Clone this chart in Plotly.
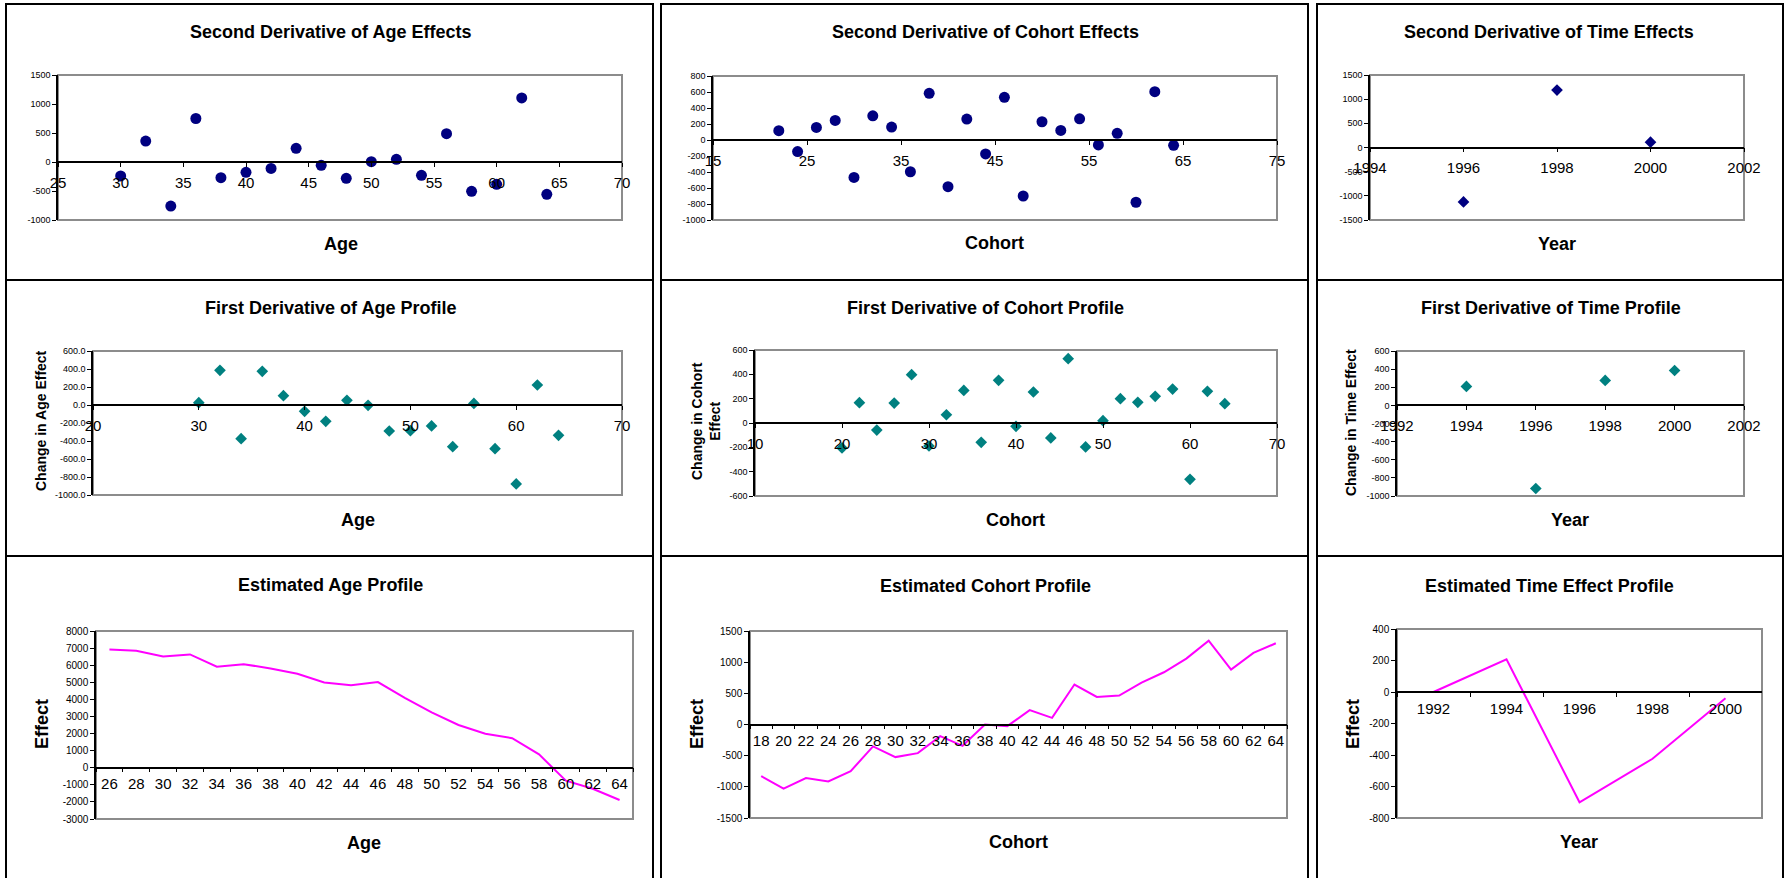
import plotly.graph_objects as go

W, H = 1788, 878
FONT = "Liberation Sans, Arial, sans-serif"

# ---------------- data ----------------
age2_x = [30, 32, 34, 36, 38, 40, 42, 44, 46, 48, 50, 52, 54, 56, 58, 60, 62, 64]
age2_y = [-240, 360, -760, 750, -270, -178, -110, 236, -58, -282, 5, 46, -230, 489, -506, -385, 1104, -558]

coh2_x = [22, 24, 26, 28, 30, 32, 34, 36, 38, 40, 42, 44, 46, 48, 50, 52, 54, 56, 58, 60, 62, 64]
coh2_y = [116, -145, 157, 244, -468, 302, 161, -397, 584, -584, 261, -174, 534, -700, 228, 120, 265, -62, 83, -778, 604, -66]

time2_x = [1996, 1998, 2000]
time2_y = [-1127, 1189, 111]

age1_x = [30, 32, 34, 36, 38, 40, 42, 44, 46, 48, 50, 52, 54, 56, 58, 60, 62, 64]
age1_y = [26, 385, -374, 374, 104, -70, -181, 52, -4, -289, -285, -233, -463, 18, -485, -877, 222, -337]

coh1_x = [20, 22, 24, 26, 28, 30, 32, 34, 36, 38, 40, 42, 44, 46, 48, 50, 52, 54, 56, 58, 60, 62, 64]
coh1_y = [-205, 167, -58, 164, 397, -189, 68, 268, -159, 351, -27, 255, -123, 529, -197, 19, 200, 170, 219, 279, -463, 260, 159]

time1_x = [1994, 1996, 1998, 2000]
time1_y = [209, -917, 275, 385]

age_cat = [26, 28, 30, 32, 34, 36, 38, 40, 42, 44, 46, 48, 50, 52, 54, 56, 58, 60, 62, 64]
age_eff = [6920, 6840, 6510, 6630, 5910, 6060, 5810, 5500, 4990, 4830, 5010, 4090, 3240, 2500, 1990, 1730, 780, -760, -1230, -1890]

coh_cat = [18, 20, 22, 24, 26, 28, 30, 32, 34, 36, 38, 40, 42, 44, 46, 48, 50, 52, 54, 56, 58, 60, 62, 64]
coh_eff = [-828, -1030, -860, -913, -748, -352, -523, -459, -187, -342, 0, -27, 230, 107, 641, 443, 465, 673, 838, 1057, 1346, 881, 1148, 1303]

year_cat = [1992, 1994, 1996, 1998, 2000]
time_eff = [0, 208, -700, -424, -40]

titles = ["Second Derivative of Age Effects", "Second Derivative of Cohort Effects", "Second Derivative of Time Effects",
          "First Derivative of Age Profile", "First Derivative of Cohort Profile", "First Derivative of Time Profile",
          "Estimated Age Profile", "Estimated Cohort Profile", "Estimated Time Effect Profile"]
xtitles = ["Age", "Cohort", "Year", "Age", "Cohort", "Year", "Age", "Cohort", "Year"]
ytitles = [None, None, None, "Change in Age Effect", "Change in Cohort<br>Effect", "Change in Time Effect",
           "Effect", "Effect", "Effect"]

NAVY = "#000080"
TEAL = "#008080"
MAGENTA = "#FF00FF"

# ---------------- panel specs (pixel geometry) ----------------
panels = [
    dict(kind="num", x=age2_x, y=age2_y, mk=("circle", 11, NAVY), plot=(58, 622, 75, 220),
         xr=(25, 70), xd=5, yr=(-1000, 1500), yd=500, yf="{:.0f}", title=(330, 32), xt=(341, 244), yt=None),
    dict(kind="num", x=coh2_x, y=coh2_y, mk=("circle", 11, NAVY), plot=(713, 1277, 76, 220),
         xr=(15, 75), xd=10, yr=(-1000, 800), yd=200, yf="{:.0f}", title=(985, 32), xt=(995, 243), yt=None),
    dict(kind="num", x=time2_x, y=time2_y, mk=("diamond", 9, NAVY), plot=(1370, 1744, 75, 220),
         xr=(1994, 2002), xd=2, yr=(-1500, 1500), yd=500, yf="{:.0f}", title=(1549, 32), xt=(1557, 244), yt=None),
    dict(kind="num", x=age1_x, y=age1_y, mk=("diamond", 9, TEAL), plot=(93, 622, 351, 495),
         xr=(20, 70), xd=10, yr=(-1000, 600), yd=200, yf="{:.1f}", title=(330, 308), xt=(358, 520), yt=(41, 421)),
    dict(kind="num", x=coh1_x, y=coh1_y, mk=("diamond", 9, TEAL), plot=(755, 1277, 350, 496),
         xr=(10, 70), xd=10, yr=(-600, 600), yd=200, yf="{:.0f}", title=(985, 308), xt=(1015, 520), yt=(706, 421)),
    dict(kind="num", x=time1_x, y=time1_y, mk=("diamond", 9, TEAL), plot=(1397, 1744, 351, 496),
         xr=(1992, 2002), xd=2, yr=(-1000, 600), yd=200, yf="{:.0f}", title=(1551, 308), xt=(1570, 520), yt=(1351, 423)),
    dict(kind="cat", x=age_cat, y=age_eff, plot=(96, 633, 631, 819),
         yr=(-3000, 8000), yd=1000, yf="{:.0f}", title=(330, 585), xt=(364, 843), yt=(42, 724)),
    dict(kind="cat", x=coh_cat, y=coh_eff, plot=(750, 1287, 631, 818),
         yr=(-1500, 1500), yd=500, yf="{:.0f}", title=(985, 586), xt=(1018, 842), yt=(697, 724)),
    dict(kind="cat", x=year_cat, y=time_eff, plot=(1397, 1762, 629, 818),
         yr=(-800, 400), yd=200, yf="{:.0f}", title=(1549, 586), xt=(1579, 842), yt=(1353, 724)),
]

boxes_x = [(6, 653), (661, 1308), (1317, 1783)]
boxes_y = [(4, 280), (280, 556), (556, 884)]


def fx(px):
    return px / W


def fy(py):
    return 1 - py / H


def rng(a, b, step):
    out = []
    v = a
    while v <= b + 1e-9:
        out.append(v)
        v += step
    return out


fig = go.Figure()
shapes = []
annotations = []
layout_axes = {}

for i, p in enumerate(panels, start=1):
    xa = "x" if i == 1 else f"x{i}"
    ya = "y" if i == 1 else f"y{i}"
    xk = "xaxis" if i == 1 else f"xaxis{i}"
    yk = "yaxis" if i == 1 else f"yaxis{i}"
    x0, x1, ytop, ybot = p["plot"]
    yd0, yd1 = fy(ybot), fy(ytop)
    ymin, ymax = p["yr"]
    zero_pos = yd0 + (0 - ymin) / (ymax - ymin) * (yd1 - yd0)

    if p["kind"] == "num":
        sym, size, col = p["mk"]
        fig.add_trace(go.Scatter(x=p["x"], y=p["y"], mode="markers", xaxis=xa, yaxis=ya,
                                 marker=dict(symbol=sym, size=size, color=col, line=dict(width=0)),
                                 showlegend=False, hoverinfo="x+y"))
        xv = rng(p["xr"][0], p["xr"][1], p["xd"])
        layout_axes[xk] = dict(domain=[fx(x0), fx(x1)], range=list(p["xr"]), anchor="free", position=zero_pos,
                               tickvals=xv, ticktext=[str(v) for v in xv], tickangle=0,
                               showgrid=False, zeroline=False, showline=True, linecolor="black", linewidth=1.5,
                               ticks="outside", ticklen=4, tickcolor="black", automargin=False,
                               tickfont=dict(family=FONT, size=15, color="black"), ticklabelstandoff=3)
        ytick_size = 9
    else:
        cats = [str(v) for v in p["x"]]
        fig.add_trace(go.Scatter(x=cats, y=p["y"], mode="lines", xaxis=xa, yaxis=ya,
                                 line=dict(color=MAGENTA, width=2), showlegend=False, hoverinfo="x+y"))
        layout_axes[xk] = dict(domain=[fx(x0), fx(x1)], type="category", categoryorder="array", categoryarray=cats,
                               range=[-0.5, len(cats) - 0.5], anchor="free", position=zero_pos,
                               tickson="boundaries", tickangle=0,
                               showgrid=False, zeroline=False, showline=True, linecolor="black", linewidth=1.5,
                               ticks="outside", ticklen=4, tickcolor="black", automargin=False,
                               tickfont=dict(family=FONT, size=15, color="black"),
                               ticklabelstandoff=3)
        ytick_size = 10

    yv = rng(ymin, ymax, p["yd"])
    layout_axes[yk] = dict(domain=[yd0, yd1], range=[ymin, ymax], anchor=xa,
                           tickvals=yv, ticktext=[p["yf"].format(v) for v in yv],
                           showgrid=False, zeroline=False, showline=True, linecolor="black", linewidth=1.5,
                           ticks="outside", ticklen=4, tickcolor="black", automargin=False,
                           tickfont=dict(family=FONT, size=ytick_size, color="black"))

    # plot-area frame
    shapes.append(dict(type="rect", xref=f"{xa} domain", yref=f"{ya} domain", x0=0, x1=1, y0=0, y1=1,
                       line=dict(color="#8c8c8c", width=2), layer="below"))

    # chart title
    tx, ty = p["title"]
    annotations.append(dict(text=titles[i - 1], x=fx(tx), y=fy(ty), xref="paper", yref="paper",
                            xanchor="center", yanchor="middle", showarrow=False,
                            font=dict(family=FONT, size=18, color="black", weight="bold")))
    # x axis title
    ax_, ay_ = p["xt"]
    annotations.append(dict(text=xtitles[i - 1], x=fx(ax_), y=fy(ay_), xref="paper", yref="paper",
                            xanchor="center", yanchor="middle", showarrow=False,
                            font=dict(family=FONT, size=18, color="black", weight="bold")))
    # y axis title
    if p["yt"] is not None and ytitles[i - 1]:
        bx, by = p["yt"]
        annotations.append(dict(text=ytitles[i - 1], x=fx(bx), y=fy(by), xref="paper", yref="paper",
                                xanchor="center", yanchor="middle", showarrow=False, textangle=-90,
                                font=dict(family=FONT, size=14 if i <= 6 else 18, color="black", weight="bold")))

# outer panel boxes
for (by0, by1) in boxes_y:
    for (bx0, bx1) in boxes_x:
        shapes.append(dict(type="rect", xref="paper", yref="paper", x0=fx(bx0), x1=fx(bx1),
                           y0=fy(by1), y1=fy(by0), line=dict(color="black", width=2), layer="above"))

fig.update_layout(
    width=W, height=H, autosize=False,
    margin=dict(l=0, r=0, t=0, b=0, pad=0, autoexpand=False),
    paper_bgcolor="white", plot_bgcolor="white",
    font=dict(family=FONT, color="black"),
    shapes=shapes, annotations=annotations, showlegend=False,
    **layout_axes,
)

fig.write_html("out.html", config={"displayModeBar": False},
               post_script="document.body.style.margin='0';document.body.style.overflow='hidden';")
